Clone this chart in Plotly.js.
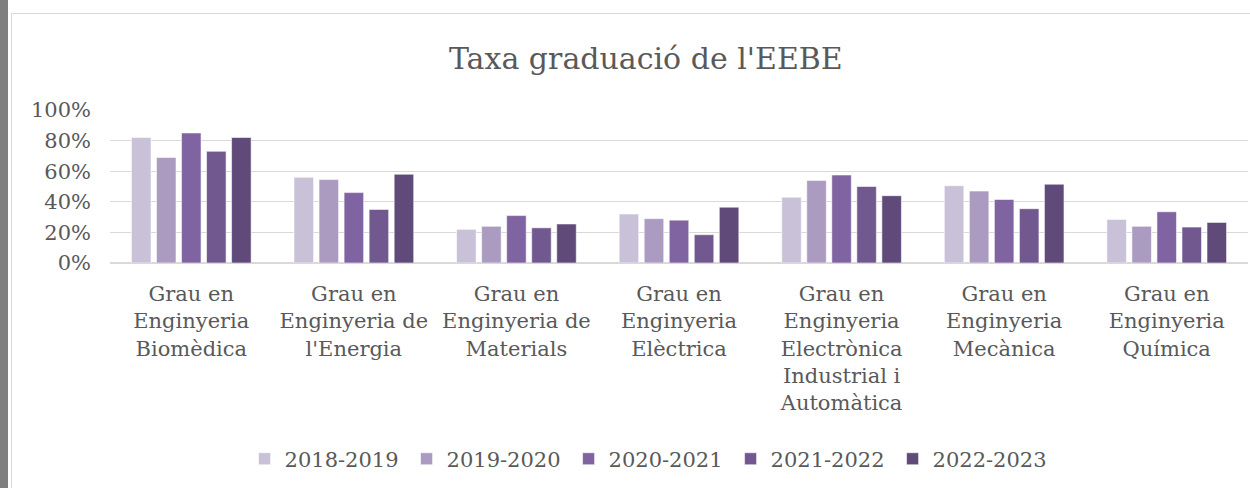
<!DOCTYPE html>
<html>
<head>
<meta charset="utf-8">
<script src="https://cdn.plot.ly/plotly-3.0.1.min.js"></script>
<style>
  html, body { margin: 0; padding: 0; background: #ffffff; width: 1250px; height: 488px; overflow: hidden; }
  #strip { position: absolute; left: 0; top: 0; width: 8px; height: 488px; background: #7f7f7f; }
  #frame { position: absolute; left: 11px; top: 13px; width: 1239px; height: 475px;
           border-left: 1px solid #d9d9d9; border-top: 1px solid #d9d9d9; box-sizing: border-box; }
  #chart { position: absolute; left: 12px; top: 14px; width: 1238px; height: 474px; }
</style>
</head>
<body>
<div id="strip"></div>
<div id="frame"></div>
<div id="chart"></div>
<script>
const categories = [
  "Grau en<br>Enginyeria<br>Biomèdica",
  "Grau en<br>Enginyeria de<br>l'Energia",
  "Grau en<br>Enginyeria de<br>Materials",
  "Grau en<br>Enginyeria<br>Elèctrica",
  "Grau en<br>Enginyeria<br>Electrònica<br>Industrial i<br>Automàtica",
  "Grau en<br>Enginyeria<br>Mecànica",
  "Grau en<br>Enginyeria<br>Química"
];
const seriesNames = ["2018-2019", "2019-2020", "2020-2021", "2021-2022", "2022-2023"];
const v2018_2019 = [82, 56, 22, 32, 43, 50.5, 28.5];
const v2019_2020 = [69, 54.5, 24, 29, 54, 47, 24];
const v2020_2021 = [85, 46, 31, 28, 57.5, 41.5, 33.5];
const v2021_2022 = [73, 35, 23, 18.5, 50, 35.5, 23.5];
const v2022_2023 = [82, 58, 25.5, 36.5, 44, 51.5, 26.5];
const seriesValues = [v2018_2019, v2019_2020, v2020_2021, v2021_2022, v2022_2023];
const seriesColors = ["#c8c1d7", "#ab9bc0", "#8064a1", "#71588f", "#5f4a7a"];

const FONT = "DejaVu Serif, serif";
const TXT = "#595959";

const traces = seriesNames.map((name, i) => ({
  type: "bar",
  name: name,
  x: categories,
  y: seriesValues[i],
  marker: { color: seriesColors[i], line: { color: "rgba(255,255,255,0.55)", width: 1 } },
  hoverinfo: "skip"
}));

const layout = {
  width: 1238,
  height: 474,
  margin: { l: 98, r: 2, t: 96, b: 225 },
  paper_bgcolor: "rgba(0,0,0,0)",
  plot_bgcolor: "rgba(0,0,0,0)",
  font: { family: FONT, color: TXT },
  title: {
    text: "Taxa graduació de l'EEBE",
    font: { family: FONT, size: 30, color: TXT },
    x: 0.512, xref: "container", xanchor: "center",
    y: 0.907, yref: "container", yanchor: "middle"
  },
  barmode: "group",
  bargap: 0.23,
  bargroupgap: 0.22,
  xaxis: {
    tickfont: { family: FONT, size: 21, color: TXT },
    showgrid: false,
    showline: false,
    ticks: "",
    tickangle: 0,
    ticklabelstandoff: 16,
    fixedrange: true
  },
  yaxis: {
    range: [0, 100],
    dtick: 20,
    ticksuffix: "%",
    tickfont: { family: FONT, size: 21, color: TXT },
    showgrid: true,
    gridcolor: "#d9d9d9",
    gridwidth: 1.3,
    zeroline: true,
    zerolinecolor: "#d9d9d9",
    zerolinewidth: 1.3,
    showline: false,
    ticks: "",
    ticklabelstandoff: 18,
    fixedrange: true
  },
  showlegend: true,
  legend: {
    orientation: "h",
    xref: "container", x: 0.515, xanchor: "center",
    yref: "container", y: 0.061, yanchor: "middle",
    font: { family: FONT, size: 21, color: TXT },
    entrywidth: 117,
    entrywidthmode: "pixels",
    itemclick: false, itemdoubleclick: false,
    traceorder: "normal"
  }
};

Plotly.newPlot("chart", traces, layout, { displayModeBar: false, staticPlot: true });
</script>
</body>
</html>
